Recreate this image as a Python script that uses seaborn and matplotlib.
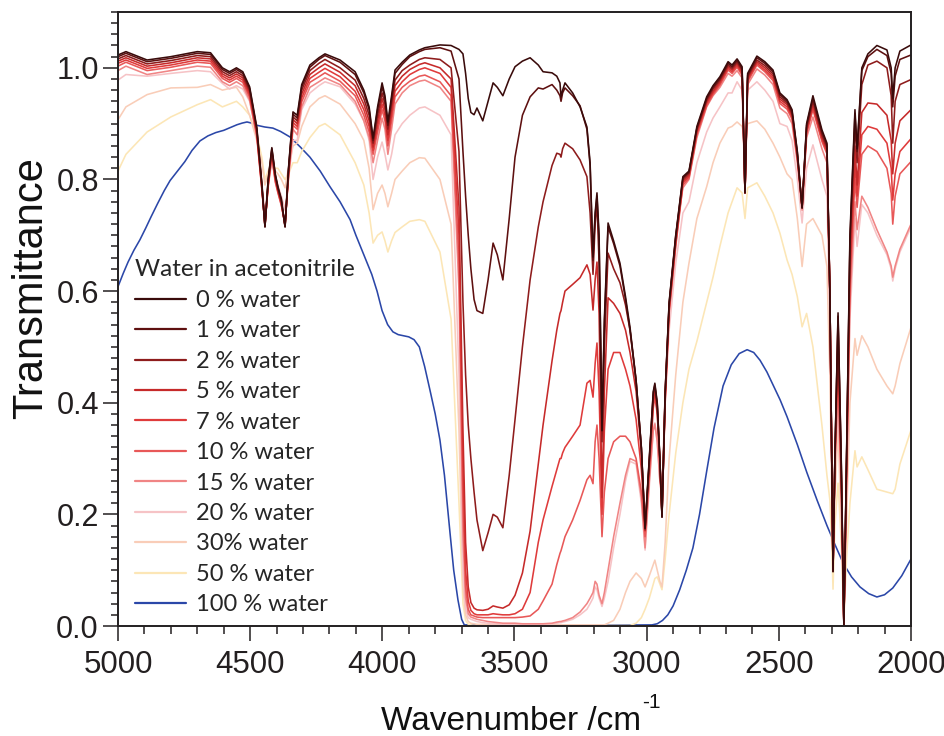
import matplotlib
matplotlib.use("Agg")
import matplotlib.pyplot as plt
from matplotlib.lines import Line2D
from matplotlib.ticker import MultipleLocator, FormatStrFormatter
import pandas as pd
import seaborn as sns

# ---------------- data ----------------
wavenumber = [5000, 4970, 4890, 4800, 4700, 4650, 4605, 4578, 4552, 4528,
              4502, 4475, 4456, 4444, 4432, 4418, 4405, 4395, 4382, 4368,
              4355, 4338, 4322, 4305, 4274, 4240, 4217, 4160, 4103, 4070,
              4050, 4035, 4018, 4001, 3990, 3979, 3965, 3952, 3925, 3896,
              3860, 3839, 3782, 3740, 3710, 3695, 3685, 3675, 3665, 3653,
              3642, 3620, 3600, 3581, 3565, 3544, 3520, 3498, 3470, 3441,
              3410, 3392, 3358, 3340, 3328, 3324, 3318, 3309, 3280, 3252,
              3226, 3214, 3203, 3195, 3188, 3180, 3169, 3160, 3146, 3125,
              3101, 3080, 3063, 3040, 3020, 3006, 2990, 2975, 2969, 2960,
              2950, 2942, 2930, 2915, 2890, 2863, 2840, 2810, 2773, 2749,
              2723, 2692, 2677, 2658, 2639, 2628, 2618, 2583, 2553, 2522,
              2496, 2469, 2450, 2430, 2412, 2395, 2371, 2337, 2318, 2307,
              2300, 2295, 2288, 2276, 2264, 2254, 2244, 2231, 2212, 2204,
              2186, 2163, 2129, 2091, 2075, 2069, 2060, 2042, 2000]

t_0 = [1.023, 1.029, 1.014, 1.020, 1.029, 1.027, 1.000, 0.993, 1.000, 0.993,
       0.966, 0.894, 0.794, 0.715, 0.800, 0.857, 0.810, 0.787, 0.765, 0.715,
       0.820, 0.921, 0.915, 0.970, 1.005, 1.018, 1.025, 1.014, 0.993, 0.960,
       0.930, 0.874, 0.930, 0.973, 0.950, 0.903, 0.950, 0.996, 1.010, 1.023,
       1.032, 1.036, 1.041, 1.040, 1.033, 1.025, 0.990, 0.945, 0.920, 0.916,
       0.928, 0.905, 0.940, 0.973, 0.965, 0.950, 0.980, 1.002, 1.012, 1.018,
       1.005, 0.993, 0.991, 0.985, 0.973, 0.948, 0.960, 0.973, 0.955, 0.930,
       0.894, 0.830, 0.661, 0.740, 0.776, 0.700, 0.350, 0.550, 0.722, 0.690,
       0.650, 0.590, 0.535, 0.440, 0.320, 0.175, 0.300, 0.420, 0.435, 0.400,
       0.300, 0.195, 0.420, 0.580, 0.700, 0.805, 0.815, 0.895, 0.948, 0.968,
       0.984, 1.011, 1.005, 1.016, 1.002, 0.776, 0.990, 1.021, 1.011, 0.996,
       0.955, 0.943, 0.925, 0.850, 0.749, 0.900, 0.950, 0.889, 0.865, 0.600,
       0.300, 0.097, 0.300, 0.561, 0.300, 0.002, 0.300, 0.700, 0.925, 0.855,
       1.000, 1.025, 1.040, 1.032, 1.000, 0.945, 1.000, 1.030, 1.041]

t_1 = [1.020, 1.026, 1.011, 1.017, 1.026, 1.024, 0.997, 0.990, 0.997, 0.990,
       0.963, 0.891, 0.792, 0.715, 0.798, 0.855, 0.808, 0.785, 0.763, 0.715,
       0.818, 0.917, 0.910, 0.966, 1.001, 1.015, 1.022, 1.010, 0.988, 0.955,
       0.925, 0.870, 0.925, 0.966, 0.944, 0.897, 0.944, 0.990, 1.006, 1.020,
       1.029, 1.033, 1.036, 1.030, 0.980, 0.850, 0.770, 0.700, 0.640, 0.585,
       0.565, 0.560, 0.620, 0.686, 0.665, 0.620, 0.730, 0.840, 0.915, 0.948,
       0.964, 0.962, 0.970, 0.960, 0.950, 0.940, 0.955, 0.964, 0.950, 0.932,
       0.890, 0.825, 0.655, 0.735, 0.770, 0.690, 0.350, 0.540, 0.715, 0.685,
       0.645, 0.585, 0.530, 0.438, 0.318, 0.175, 0.298, 0.418, 0.432, 0.398,
       0.298, 0.195, 0.418, 0.578, 0.698, 0.803, 0.813, 0.892, 0.945, 0.965,
       0.981, 1.008, 1.002, 1.013, 0.999, 0.776, 0.987, 1.018, 1.008, 0.993,
       0.952, 0.940, 0.922, 0.848, 0.749, 0.897, 0.945, 0.885, 0.862, 0.600,
       0.300, 0.098, 0.300, 0.555, 0.295, 0.002, 0.295, 0.690, 0.918, 0.850,
       0.995, 1.020, 1.033, 1.022, 0.990, 0.930, 0.985, 1.015, 1.023]

t_2 = [1.016, 1.022, 1.007, 1.013, 1.022, 1.020, 0.993, 0.986, 0.993, 0.986,
       0.959, 0.888, 0.790, 0.716, 0.795, 0.852, 0.805, 0.783, 0.760, 0.716,
       0.815, 0.912, 0.905, 0.960, 0.995, 1.008, 1.015, 1.000, 0.978, 0.945,
       0.915, 0.865, 0.915, 0.955, 0.935, 0.890, 0.935, 0.978, 0.995, 1.005,
       1.015, 1.018, 1.015, 1.000, 0.850, 0.580, 0.450, 0.360, 0.300, 0.240,
       0.190, 0.135, 0.167, 0.200, 0.195, 0.176, 0.270, 0.370, 0.500, 0.620,
       0.715, 0.760, 0.825, 0.847, 0.845, 0.840, 0.855, 0.865, 0.855, 0.835,
       0.805, 0.740, 0.630, 0.720, 0.758, 0.650, 0.330, 0.500, 0.668, 0.640,
       0.615, 0.575, 0.530, 0.440, 0.318, 0.172, 0.295, 0.412, 0.428, 0.395,
       0.298, 0.196, 0.415, 0.575, 0.695, 0.800, 0.811, 0.890, 0.942, 0.962,
       0.978, 1.005, 0.999, 1.010, 0.996, 0.776, 0.984, 1.014, 1.004, 0.989,
       0.948, 0.937, 0.918, 0.845, 0.749, 0.893, 0.940, 0.880, 0.858, 0.600,
       0.300, 0.098, 0.298, 0.545, 0.290, 0.002, 0.290, 0.680, 0.900, 0.830,
       0.970, 1.005, 1.012, 1.000, 0.950, 0.865, 0.940, 0.970, 0.979]

t_5 = [1.012, 1.018, 1.003, 1.009, 1.018, 1.016, 0.989, 0.982, 0.989, 0.982,
       0.955, 0.885, 0.788, 0.717, 0.793, 0.849, 0.803, 0.781, 0.758, 0.717,
       0.812, 0.907, 0.900, 0.953, 0.988, 1.000, 1.007, 0.992, 0.968, 0.935,
       0.905, 0.858, 0.905, 0.945, 0.925, 0.880, 0.925, 0.968, 0.985, 0.997,
       1.006, 1.009, 1.000, 0.980, 0.750, 0.350, 0.150, 0.070, 0.042, 0.032,
       0.029, 0.028, 0.030, 0.036, 0.034, 0.032, 0.038, 0.055, 0.095, 0.170,
       0.290, 0.360, 0.475, 0.530, 0.560, 0.565, 0.580, 0.600, 0.612, 0.624,
       0.647, 0.630, 0.566, 0.620, 0.652, 0.560, 0.230, 0.420, 0.588, 0.578,
       0.560, 0.530, 0.490, 0.420, 0.310, 0.175, 0.290, 0.405, 0.422, 0.390,
       0.295, 0.198, 0.410, 0.570, 0.690, 0.797, 0.808, 0.887, 0.939, 0.958,
       0.975, 1.002, 0.996, 1.007, 0.993, 0.776, 0.981, 1.011, 1.000, 0.985,
       0.944, 0.934, 0.915, 0.842, 0.750, 0.890, 0.935, 0.876, 0.854, 0.600,
       0.300, 0.100, 0.295, 0.510, 0.280, 0.003, 0.280, 0.650, 0.860, 0.790,
       0.920, 0.937, 0.935, 0.915, 0.870, 0.810, 0.865, 0.905, 0.925]

t_7 = [1.008, 1.014, 0.999, 1.005, 1.014, 1.012, 0.985, 0.978, 0.985, 0.978,
       0.951, 0.882, 0.786, 0.718, 0.790, 0.846, 0.800, 0.779, 0.756, 0.718,
       0.809, 0.902, 0.895, 0.946, 0.981, 0.992, 0.999, 0.984, 0.958, 0.925,
       0.895, 0.852, 0.895, 0.935, 0.915, 0.870, 0.915, 0.958, 0.975, 0.988,
       0.997, 1.000, 0.990, 0.965, 0.700, 0.280, 0.100, 0.045, 0.028, 0.022,
       0.020, 0.020, 0.020, 0.022, 0.021, 0.020, 0.020, 0.022, 0.030, 0.060,
       0.150, 0.190, 0.250, 0.280, 0.300, 0.300, 0.310, 0.320, 0.340, 0.360,
       0.435, 0.440, 0.410, 0.470, 0.507, 0.420, 0.200, 0.350, 0.460, 0.490,
       0.490, 0.460, 0.430, 0.370, 0.280, 0.170, 0.285, 0.400, 0.418, 0.385,
       0.292, 0.200, 0.405, 0.565, 0.685, 0.794, 0.805, 0.884, 0.936, 0.955,
       0.972, 0.999, 0.993, 1.004, 0.990, 0.776, 0.978, 1.008, 0.996, 0.981,
       0.940, 0.930, 0.912, 0.840, 0.750, 0.886, 0.930, 0.872, 0.850, 0.600,
       0.300, 0.100, 0.292, 0.490, 0.270, 0.003, 0.270, 0.630, 0.830, 0.770,
       0.880, 0.895, 0.890, 0.865, 0.820, 0.763, 0.810, 0.850, 0.873]

t_10 = [1.003, 1.010, 0.995, 1.001, 1.010, 1.008, 0.981, 0.974, 0.981, 0.974,
        0.947, 0.879, 0.784, 0.719, 0.788, 0.843, 0.797, 0.777, 0.754, 0.719,
        0.806, 0.897, 0.890, 0.939, 0.974, 0.984, 0.991, 0.976, 0.950, 0.915,
        0.885, 0.845, 0.885, 0.925, 0.905, 0.860, 0.905, 0.948, 0.965, 0.976,
        0.985, 0.987, 0.975, 0.950, 0.650, 0.220, 0.070, 0.030, 0.020, 0.018,
        0.016, 0.015, 0.015, 0.015, 0.015, 0.015, 0.015, 0.015, 0.016, 0.018,
        0.030, 0.045, 0.075, 0.110, 0.130, 0.135, 0.145, 0.160, 0.190, 0.225,
        0.262, 0.270, 0.255, 0.330, 0.360, 0.300, 0.160, 0.240, 0.300, 0.330,
        0.340, 0.340, 0.330, 0.300, 0.240, 0.160, 0.270, 0.390, 0.410, 0.380,
        0.290, 0.202, 0.400, 0.560, 0.680, 0.790, 0.802, 0.880, 0.932, 0.952,
        0.969, 0.996, 0.990, 1.001, 0.987, 0.776, 0.975, 1.005, 0.993, 0.977,
        0.936, 0.926, 0.908, 0.837, 0.750, 0.882, 0.925, 0.868, 0.846, 0.600,
        0.300, 0.100, 0.290, 0.470, 0.260, 0.003, 0.260, 0.610, 0.800, 0.750,
        0.845, 0.860, 0.850, 0.820, 0.775, 0.720, 0.770, 0.810, 0.832]

t_15 = [0.995, 1.003, 0.988, 0.995, 1.003, 1.001, 0.975, 0.968, 0.975, 0.968,
        0.942, 0.876, 0.783, 0.722, 0.786, 0.840, 0.795, 0.776, 0.753, 0.722,
        0.803, 0.890, 0.880, 0.930, 0.965, 0.975, 0.982, 0.970, 0.940, 0.905,
        0.875, 0.830, 0.870, 0.910, 0.890, 0.845, 0.890, 0.935, 0.955, 0.968,
        0.976, 0.978, 0.965, 0.940, 0.600, 0.160, 0.050, 0.022, 0.016, 0.014,
        0.012, 0.010, 0.008, 0.007, 0.006, 0.005, 0.005, 0.005, 0.004, 0.004,
        0.004, 0.004, 0.005, 0.007, 0.008, 0.008, 0.009, 0.010, 0.015, 0.025,
        0.040, 0.050, 0.060, 0.080, 0.075, 0.055, 0.040, 0.060, 0.100, 0.160,
        0.220, 0.270, 0.300, 0.295, 0.230, 0.140, 0.260, 0.350, 0.362, 0.330,
        0.260, 0.230, 0.420, 0.570, 0.700, 0.785, 0.800, 0.875, 0.930, 0.950,
        0.965, 0.990, 0.985, 0.995, 0.982, 0.776, 0.970, 0.998, 0.987, 0.970,
        0.928, 0.918, 0.900, 0.830, 0.745, 0.875, 0.912, 0.855, 0.830, 0.580,
        0.290, 0.100, 0.280, 0.420, 0.240, 0.003, 0.240, 0.580, 0.760, 0.710,
        0.770, 0.750, 0.710, 0.670, 0.645, 0.625, 0.645, 0.675, 0.720]

t_20 = [0.978, 0.988, 0.985, 0.990, 0.995, 0.993, 0.972, 0.962, 0.968, 0.962,
        0.940, 0.880, 0.795, 0.740, 0.790, 0.830, 0.805, 0.790, 0.770, 0.745,
        0.800, 0.870, 0.870, 0.925, 0.955, 0.968, 0.975, 0.966, 0.935, 0.905,
        0.870, 0.800, 0.840, 0.867, 0.845, 0.817, 0.845, 0.880, 0.900, 0.915,
        0.928, 0.930, 0.915, 0.880, 0.450, 0.100, 0.030, 0.015, 0.012, 0.010,
        0.008, 0.006, 0.005, 0.004, 0.004, 0.003, 0.003, 0.003, 0.003, 0.003,
        0.003, 0.003, 0.004, 0.005, 0.006, 0.006, 0.007, 0.008, 0.012, 0.020,
        0.030, 0.040, 0.050, 0.070, 0.065, 0.050, 0.035, 0.050, 0.080, 0.140,
        0.200, 0.260, 0.295, 0.290, 0.220, 0.136, 0.250, 0.350, 0.364, 0.330,
        0.260, 0.226, 0.400, 0.530, 0.650, 0.740, 0.760, 0.830, 0.885, 0.910,
        0.930, 0.955, 0.955, 0.975, 0.960, 0.780, 0.960, 0.975, 0.960, 0.940,
        0.900, 0.895, 0.870, 0.800, 0.722, 0.820, 0.862, 0.800, 0.770, 0.550,
        0.280, 0.100, 0.270, 0.400, 0.230, 0.003, 0.230, 0.550, 0.730, 0.680,
        0.755, 0.740, 0.700, 0.665, 0.640, 0.618, 0.640, 0.670, 0.715]

t_30 = [0.907, 0.930, 0.952, 0.964, 0.965, 0.970, 0.960, 0.963, 0.965, 0.948,
        0.915, 0.870, 0.830, 0.790, 0.810, 0.825, 0.815, 0.810, 0.800, 0.785,
        0.820, 0.860, 0.865, 0.895, 0.930, 0.945, 0.950, 0.935, 0.900, 0.870,
        0.820, 0.746, 0.775, 0.790, 0.775, 0.751, 0.775, 0.800, 0.815, 0.830,
        0.839, 0.838, 0.800, 0.720, 0.350, 0.070, 0.020, 0.008, 0.005, 0.004,
        0.003, 0.003, 0.002, 0.002, 0.002, 0.002, 0.002, 0.002, 0.002, 0.002,
        0.002, 0.002, 0.002, 0.002, 0.002, 0.002, 0.002, 0.002, 0.002, 0.002,
        0.002, 0.002, 0.002, 0.002, 0.002, 0.002, 0.002, 0.002, 0.005, 0.010,
        0.030, 0.060, 0.080, 0.095, 0.085, 0.070, 0.090, 0.110, 0.118, 0.100,
        0.080, 0.070, 0.150, 0.300, 0.450, 0.580, 0.650, 0.730, 0.787, 0.830,
        0.865, 0.892, 0.895, 0.903, 0.895, 0.875, 0.900, 0.905, 0.890, 0.865,
        0.840, 0.810, 0.800, 0.730, 0.644, 0.720, 0.730, 0.700, 0.644, 0.450,
        0.250, 0.100, 0.230, 0.350, 0.180, 0.010, 0.180, 0.400, 0.515, 0.485,
        0.520, 0.500, 0.460, 0.430, 0.420, 0.416, 0.430, 0.470, 0.535]

t_50 = [0.815, 0.845, 0.885, 0.912, 0.934, 0.943, 0.930, 0.935, 0.940, 0.930,
        0.915, 0.880, 0.840, 0.800, 0.815, 0.830, 0.820, 0.820, 0.810, 0.800,
        0.810, 0.830, 0.830, 0.850, 0.875, 0.895, 0.900, 0.880, 0.830, 0.790,
        0.740, 0.686, 0.700, 0.706, 0.690, 0.670, 0.690, 0.705, 0.715, 0.725,
        0.728, 0.725, 0.670, 0.550, 0.220, 0.040, 0.010, 0.003, 0.002, 0.001,
        0.001, 0.001, 0.001, 0.001, 0.001, 0.001, 0.001, 0.001, 0.001, 0.001,
        0.001, 0.001, 0.001, 0.001, 0.001, 0.001, 0.001, 0.001, 0.001, 0.001,
        0.001, 0.001, 0.001, 0.001, 0.001, 0.001, 0.001, 0.001, 0.001, 0.001,
        0.001, 0.001, 0.001, 0.005, 0.015, 0.030, 0.050, 0.075, 0.085, 0.088,
        0.075, 0.065, 0.120, 0.200, 0.310, 0.400, 0.460, 0.510, 0.580, 0.625,
        0.680, 0.740, 0.760, 0.785, 0.776, 0.730, 0.785, 0.794, 0.770, 0.740,
        0.704, 0.656, 0.630, 0.590, 0.536, 0.560, 0.500, 0.360, 0.270, 0.226,
        0.150, 0.066, 0.180, 0.256, 0.150, 0.010, 0.120, 0.220, 0.314, 0.285,
        0.303, 0.280, 0.245, 0.240, 0.238, 0.237, 0.245, 0.290, 0.351]

wavenumber_water = [5000, 4980, 4962, 4940, 4917, 4895, 4875, 4850, 4825, 4803,
                    4775, 4747, 4720, 4690, 4660, 4630, 4600, 4575, 4550, 4530,
                    4512, 4495, 4474, 4445, 4414, 4385, 4349, 4310, 4274, 4235,
                    4198, 4160, 4122, 4100, 4070, 4040, 4020, 4001, 3980, 3960,
                    3940, 3920, 3900, 3880, 3860, 3840, 3820, 3800, 3782, 3765,
                    3744, 3730, 3714, 3700, 3690, 3300, 2980, 2960, 2940, 2920,
                    2900, 2875, 2850, 2825, 2800, 2772, 2745, 2711, 2680, 2650,
                    2620, 2595, 2571, 2545, 2520, 2495, 2469, 2430, 2394, 2355,
                    2318, 2285, 2257, 2225, 2193, 2160, 2129, 2100, 2069, 2035,
                    2000]
t_100 = [0.608, 0.632, 0.652, 0.673, 0.692, 0.713, 0.733, 0.757, 0.780, 0.798,
         0.815, 0.832, 0.852, 0.869, 0.878, 0.884, 0.888, 0.893, 0.898, 0.901,
         0.903, 0.901, 0.897, 0.894, 0.892, 0.886, 0.876, 0.858, 0.840, 0.815,
         0.787, 0.760, 0.728, 0.700, 0.665, 0.630, 0.600, 0.565, 0.540, 0.527,
         0.522, 0.520, 0.518, 0.513, 0.500, 0.465, 0.423, 0.380, 0.333, 0.270,
         0.167, 0.100, 0.047, 0.012, 0.002, 0.001, 0.002, 0.004, 0.010, 0.020,
         0.036, 0.065, 0.100, 0.140, 0.200, 0.280, 0.355, 0.430, 0.468, 0.488,
         0.495, 0.490, 0.476, 0.455, 0.430, 0.405, 0.375, 0.325, 0.275, 0.225,
         0.180, 0.143, 0.113, 0.088, 0.070, 0.058, 0.052, 0.056, 0.068, 0.090,
         0.120]

labels = ["0 % water", "1 % water", "2 % water", "5 % water", "7 % water",
          "10 % water", "15 % water", "20 % water", "30% water", "50 % water",
          "100 % water"]
colors = ["#3a0b0b", "#5e1010", "#8e1c1c", "#c62a2a", "#df3b3b", "#e85858",
          "#f08585", "#f6c3c6", "#f9cdb8", "#fce6b6", "#2b47a8"]
acn_series = [t_0, t_1, t_2, t_5, t_7, t_10, t_15, t_20, t_30, t_50]

frames = []
for lab, vals in zip(labels[:-1], acn_series):
    frames.append(pd.DataFrame({"wavenumber": wavenumber, "T": vals, "series": lab}))
frames.append(pd.DataFrame({"wavenumber": wavenumber_water, "T": t_100, "series": labels[-1]}))
df = pd.concat(frames, ignore_index=True)

# ---------------- drawing ----------------
sns.set_style("ticks")
plt.rcParams["font.family"] = ["Liberation Sans", "DejaVu Sans"]

fig = plt.figure(figsize=(9.45, 7.36), dpi=100)
ax = fig.add_axes([118 / 945, 1 - 626 / 736, 793 / 945, 614 / 736])

palette = dict(zip(labels, colors))
sns.lineplot(data=df, x="wavenumber", y="T", hue="series",
             hue_order=labels[::-1], palette=palette, estimator=None,
             sort=False, linewidth=1.15, legend=False, ax=ax)

ax.set_xlim(5000, 2000)
ax.set_ylim(0, 1.1)
ax.xaxis.set_major_locator(MultipleLocator(500))
ax.xaxis.set_minor_locator(MultipleLocator(100))
ax.yaxis.set_major_locator(MultipleLocator(0.2))
ax.yaxis.set_minor_locator(MultipleLocator(0.02))
ax.yaxis.set_major_formatter(FormatStrFormatter("%.1f"))
ax.tick_params(which="major", direction="out", length=10.8, width=1.1,
               colors="#231f20", labelsize=22.5, pad=6.5)
ax.tick_params(axis="y", which="major", pad=3, labelsize=22)
ax.tick_params(which="minor", direction="out", length=5.4, width=1.1,
               colors="#231f20")
for sp in ax.spines.values():
    sp.set_visible(True)
    sp.set_color("#231f20")
    sp.set_linewidth(1.4)

ax.set_xlabel("Wavenumber /cm", fontsize=24, color="#111111")
ax.set_ylabel("Transmittance", fontsize=30, color="#111111")
ax.xaxis.set_label_coords(0.4956, -0.131)
ax.yaxis.set_label_coords(-0.0845, 0.55)

handles = [Line2D([0], [0], color=c, lw=1.6) for c in colors]
leg = ax.legend(handles, labels, title="Water in acetonitrile",
                loc="upper left", bbox_to_anchor=(0.004, 0.620),
                frameon=False, handlelength=2.15, handletextpad=0.42,
                labelspacing=0.40, borderaxespad=0.2, alignment="left",
                prop={"family": ["Lato", "DejaVu Sans"], "size": 17})
leg.get_title().set_family(["Lato", "DejaVu Sans"])
leg.get_title().set_fontsize(17.5)

# superscript "-1" of the unit, placed right after the x label text
fig.canvas.draw()
bb = ax.xaxis.label.get_window_extent(fig.canvas.get_renderer())
fig.text((bb.x1 + 1) / 945, (736 - 703) / 736, "-1", fontsize=15,
         color="#111111", ha="left", va="center")

fig.savefig("out.png", dpi=100)
